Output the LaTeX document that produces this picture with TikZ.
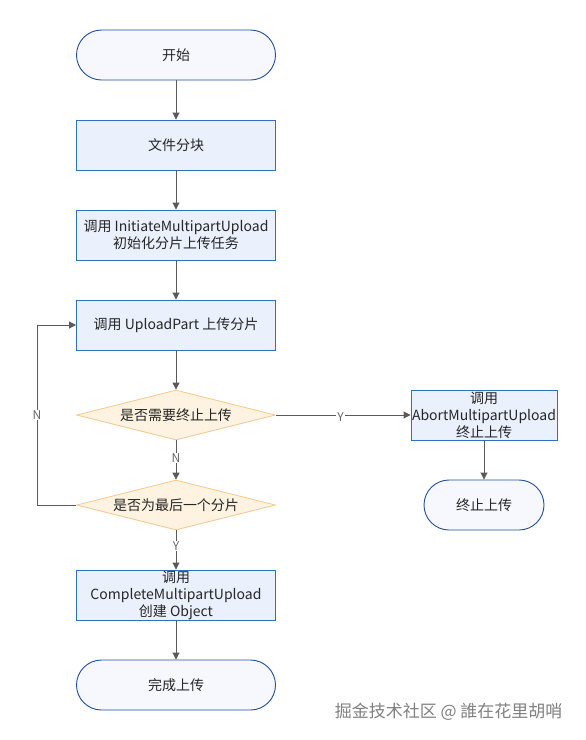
\documentclass[tikz,border=0pt]{standalone}
\usepackage{fontspec}
\setmainfont{Noto Sans CJK SC}
\usetikzlibrary{shapes.geometric,arrows.meta}
\definecolor{procfill}{HTML}{EAF0FC}
\definecolor{procdraw}{HTML}{2F6FC6}
\definecolor{termfill}{HTML}{F6F8FD}
\definecolor{termdraw}{HTML}{1F4E9E}
\definecolor{decfill}{HTML}{FDF3E0}
\definecolor{decdraw}{HTML}{F3C98E}
\definecolor{linec}{HTML}{5A5A5A}
\tikzset{
  proc/.style={draw=procdraw, fill=procfill, line width=0.9pt, minimum width=199pt, minimum height=50pt, inner sep=0pt, align=center, font=\fontsize{14}{17}\selectfont, text=black!85},
  term/.style={draw=termdraw, fill=termfill, line width=0.9pt, rounded corners=25pt, minimum width=199pt, minimum height=50pt, inner sep=0pt, align=center, font=\fontsize{14}{17}\selectfont, text=black!85},
  dec/.style={draw=decdraw, fill=decfill, line width=0.8pt, diamond, aspect=4, minimum width=199pt, minimum height=50pt, inner sep=0pt, align=center, font=\fontsize{14}{17}\selectfont, text=black!85},
  conn/.style={draw=linec, line width=0.9pt, -{Triangle[length=7pt,width=7pt]}},
  lbl/.style={fill=white, inner sep=1pt, text=black!60, font=\fontsize{12}{13}\selectfont}
}
\begin{document}
\begin{tikzpicture}[x=1pt,y=-1pt]
\useasboundingbox (0,0) rectangle (586,740);
\node[term] (start) at (176,55) {开始};
\node[proc] (split) at (176,145) {文件分块};
\node[proc] (init) at (176,235) {调用 InitiateMultipartUpload\\初始化分片上传任务};
\node[proc] (part) at (176,325) {调用 UploadPart 上传分片};
\node[dec] (abortq) at (176,415) {是否需要终止上传};
\node[dec] (lastq) at (176,505) {是否为最后一个分片};
\node[proc] (complete) at (176,595) {调用\\CompleteMultipartUpload\\创建 Object};
\node[term] (done) at (176,685) {完成上传};
\node[proc, minimum width=146pt] (abort) at (484,415) {调用\\AbortMultipartUpload\\终止上传};
\node[term, minimum width=120pt] (stop) at (484,505) {终止上传};
\coordinate (lb) at (37,505);
\coordinate (lt) at (37,325);
\draw[conn] (start) -- (split);
\draw[conn] (split) -- (init);
\draw[conn] (init) -- (part);
\draw[conn] (part) -- (abortq);
\draw[conn] (abortq) -- node[lbl, pos=0.45] {N} (lastq);
\draw[conn] (lastq) -- node[lbl, pos=0.4] {Y} (complete);
\draw[conn] (complete) -- (done);
\draw[conn] (abortq.east) -- node[lbl, pos=0.48, yshift=-2pt] {Y} (abort.west);
\draw[conn] (abort) -- (stop);
\draw[conn] (lastq.west) -- (lb) -- node[lbl, pos=0.5] {N} (lt) -- (part.west);
\node[text=black!50, font=\fontsize{17}{19}\selectfont, anchor=east] (wm) at (566,712) {掘金技术社区 @ 誰在花里胡哨};
\end{tikzpicture}
\end{document}
